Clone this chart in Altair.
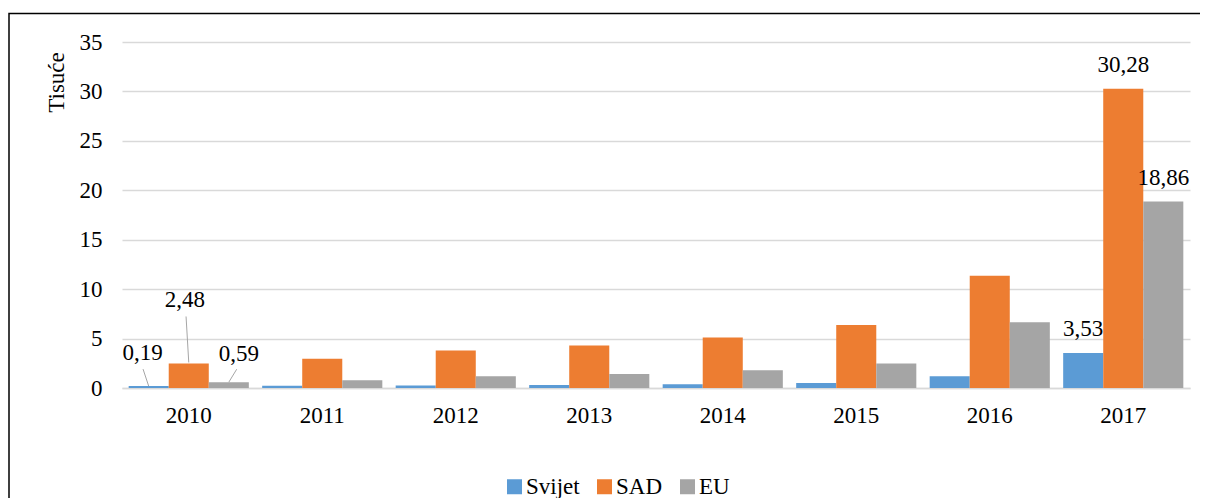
import altair as alt
import pandas as pd

years = ["2010", "2011", "2012", "2013", "2014", "2015", "2016", "2017"]
series = ["Svijet", "SAD", "EU"]
svijet = [0.19, 0.22, 0.26, 0.31, 0.39, 0.50, 1.18, 3.53]
sad = [2.48, 2.95, 3.80, 4.31, 5.10, 6.38, 11.35, 30.28]
eu = [0.59, 0.78, 1.18, 1.42, 1.80, 2.48, 6.66, 18.86]
colors = ["#5B9BD5", "#ED7D31", "#A5A5A5"]
y_ticks = [0, 5, 10, 15, 20, 25, 30, 35]

rows = []
for name, vals in zip(series, [svijet, sad, eu]):
    for yr, v in zip(years, vals):
        rows.append({"year": yr, "series": name, "value": v,
                     "label": f"{v:.2f}".replace(".", ",")})
df = pd.DataFrame(rows)

FONT = "Liberation Serif"
FS = 23

x_enc = alt.X("year:N", sort=years,
              scale=alt.Scale(paddingInner=0.1, paddingOuter=0.05),
              axis=alt.Axis(title=None, labelAngle=0, ticks=False, labelPadding=16,
                            domainColor="#D9D9D9", domainWidth=1.5,
                            labelFontSize=FS, labelFont=FONT, labelColor="black"))
xo_enc = alt.XOffset("series:N", sort=series,
                     scale=alt.Scale(domain=series, paddingInner=0, paddingOuter=0))
y_enc = alt.Y("value:Q", scale=alt.Scale(domain=[0, 35]),
              axis=alt.Axis(values=y_ticks, title="Tisuće", domain=False, ticks=False,
                            labelPadding=20, gridColor="#D9D9D9", gridWidth=1.5,
                            labelFontSize=FS, labelFont=FONT, labelColor="black",
                            titleFontSize=FS, titleFont=FONT, titleFontWeight="normal",
                            titleColor="black", titleAngle=270, titleX=-59, titleY=40,
                            titleAlign="center", titleBaseline="alphabetic"))

base = alt.Chart(df)

bars = base.mark_bar().encode(
    x=x_enc, xOffset=xo_enc, y=y_enc,
    color=alt.Color("series:N", sort=series,
                    scale=alt.Scale(domain=series, range=colors),
                    legend=alt.Legend(orient="none", legendX=381, legendY=433,
                                      direction="horizontal", title=None,
                                      symbolType="square", symbolSize=225,
                                      symbolStrokeWidth=0, labelFontSize=FS,
                                      labelFont=FONT, labelColor="black",
                                      columnPadding=13, labelOffset=0, padding=0)),
)

txt_kw = dict(font=FONT, fontSize=FS, color="black", baseline="alphabetic", align="center")

labels_2017 = base.transform_filter(alt.datum.year == "2017").mark_text(dy=-17, **txt_kw).encode(
    x=alt.X("year:N", sort=years), xOffset=xo_enc, y="value:Q", text="label:N")

layers = [bars, labels_2017]

# label dx, dy ; leader start yOffset, end y2Offset, end x2Offset (from year-band centre)
offsets_2010 = {"Svijet": (-6, -26, 0, -17, -45.7),
                "SAD": (-4, -56.5, -1, -47, -2.7),
                "EU": (10, -21.5, 0, -13, 48)}
for name in series:
    dx, dy, yo, y2o, x2o = offsets_2010[name]
    sub = base.transform_filter((alt.datum.year == "2010") & (alt.datum.series == name))
    layers.append(sub.mark_rule(color="#A6A6A6", strokeWidth=1, yOffset=yo, y2Offset=y2o,
                                x2Offset=x2o).encode(
        x=alt.X("year:N", sort=years), x2="year:N", xOffset=xo_enc, y="value:Q", y2="value:Q"))
    layers.append(sub.mark_text(dx=dx, dy=dy, **txt_kw).encode(
        x=alt.X("year:N", sort=years), xOffset=xo_enc, y="value:Q", text="label:N"))

frame = alt.Chart(pd.DataFrame({"k": [0]})).mark_rect(
    fill="transparent", stroke="black", strokeWidth=1.5).encode(
    x=alt.value(-113), x2=alt.value(1100), y=alt.value(-28.5), y2=alt.value(480))
layers.append(frame)

chart = alt.layer(*layers).properties(
    width=1068, height=346,
    padding={"left": 114, "top": 34, "right": 10, "bottom": 110},
    autosize=alt.AutoSizeParams(type="none"),
    background="white",
).configure(font=FONT).configure_view(strokeWidth=0).configure_text(font=FONT).configure_legend(
    labelFont=FONT)

chart.save("out.html", embed_options={"renderer": "svg", "actions": False})
